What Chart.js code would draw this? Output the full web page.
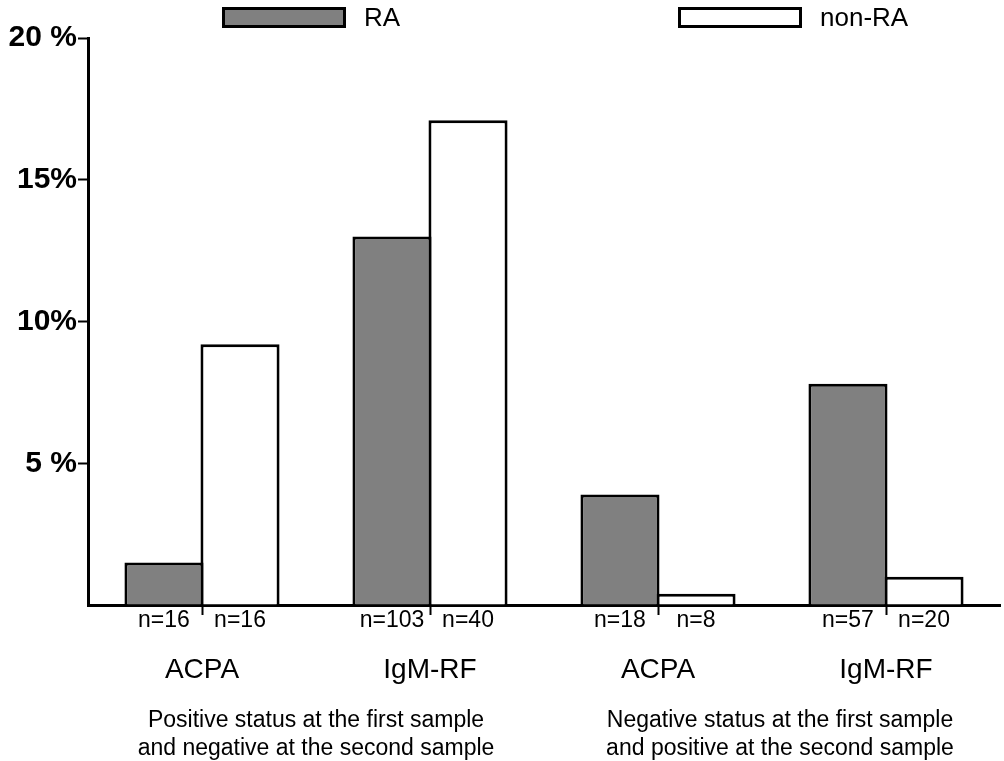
<!DOCTYPE html>
<html>
<head>
<meta charset="utf-8">
<script src="https://cdn.jsdelivr.net/npm/chart.js@4.4.1/dist/chart.umd.min.js"></script>
<style>
  html, body { margin: 0; padding: 0; background: #fff; }
  #wrap { width: 1004px; height: 761px; }
</style>
</head>
<body>
<div id="wrap"><canvas id="chart"></canvas></div>
<script>
// categories on the x axis
const categories = ['ACPA', 'IgM-RF', 'ACPA', 'IgM-RF'];
// percentage values
const raValues = [1.5, 13.0, 3.9, 7.8];
const nonRaValues = [9.2, 17.1, 0.4, 1.0];
// sample sizes printed under each bar
const raN = ['n=16', 'n=103', 'n=18', 'n=57'];
const nonRaN = ['n=16', 'n=40', 'n=8', 'n=20'];
// y tick labels (keyed by value)
const yTickValues = [5, 10, 15, 20];
const yTickLabels = ['5 %', '10%', '15%', '20 %'];
// group captions: [first category index, last category index, lines]
const groupCaptions = [
  [0, 1, ['Positive status at the first sample', 'and negative at the second sample']],
  [2, 3, ['Negative status at the first sample', 'and positive at the second sample']]
];

const FONT = '"Liberation Sans", Arial, sans-serif';
const INK = '#000';

// legend drawn by hand so the boxes sit where the original has them
const legendBoxes = {
  id: 'legendBoxes',
  afterDraw(chart) {
    const ctx = chart.ctx;
    const spots = [222, 678];
    ctx.save();
    chart.data.datasets.forEach((ds, i) => {
      const x = spots[i];
      ctx.fillStyle = ds.backgroundColor;
      ctx.fillRect(x, 7, 124, 21);
      ctx.lineWidth = 3;
      ctx.strokeStyle = ds.borderColor;
      ctx.strokeRect(x + 1.5, 8.5, 121, 18);
      ctx.fillStyle = INK;
      ctx.font = '26px ' + FONT;
      ctx.textBaseline = 'middle';
      ctx.textAlign = 'left';
      ctx.fillText(ds.label, x + 142, 19);
    });
    ctx.restore();
  }
};

// n= labels under each bar and captions under each group
const underLabels = {
  id: 'underLabels',
  afterDraw(chart) {
    const ctx = chart.ctx;
    const bottom = chart.chartArea.bottom;
    const xScale = chart.scales.x;
    ctx.save();
    ctx.fillStyle = INK;
    ctx.textAlign = 'center';
    ctx.textBaseline = 'middle';
    ctx.font = '23px ' + FONT;
    [raN, nonRaN].forEach((labels, d) => {
      const meta = chart.getDatasetMeta(d);
      meta.data.forEach((bar, i) => {
        ctx.fillText(labels[i], bar.x, bottom + 16);
      });
    });

    ctx.font = '23px ' + FONT;
    const nudge = [0, 8];
    groupCaptions.forEach(([a, b, lines], g) => {
      const cx = (xScale.getPixelForValue(a) + xScale.getPixelForValue(b)) / 2 + nudge[g];
      lines.forEach((line, k) => {
        ctx.fillText(line, cx, bottom + 116 + k * 28);
      });
    });
    ctx.restore();
  }
};

new Chart(document.getElementById('chart'), {
  type: 'bar',
  data: {
    labels: categories,
    datasets: [
      {
        label: 'RA',
        data: raValues,
        backgroundColor: '#808080',
        borderColor: INK,
        borderWidth: 3,
        barPercentage: 1.04,
        categoryPercentage: 0.667
      },
      {
        label: 'non-RA',
        data: nonRaValues,
        backgroundColor: '#ffffff',
        borderColor: INK,
        borderWidth: 3,
        barPercentage: 1.04,
        categoryPercentage: 0.667
      }
    ]
  },
  options: {
    responsive: true,
    maintainAspectRatio: false,
    animation: false,
    layout: { padding: { left: 0, right: 4, top: 38, bottom: 0 } },
    plugins: {
      legend: { display: false },
      tooltip: { enabled: false }
    },
    scales: {
      x: {
        offset: true,
        border: { display: true, color: INK, width: 3 },
        grid: {
          offset: false,
          drawOnChartArea: false,
          drawTicks: true,
          tickLength: 10,
          tickWidth: 2,
          tickColor: INK
        },
        ticks: {
          color: INK,
          font: { family: FONT, size: 28 },
          padding: 38,
          maxRotation: 0,
          autoSkip: false
        },
        afterFit(scale) { scale.height = 156; }
      },
      y: {
        min: 0,
        max: 20,
        border: { display: true, color: INK, width: 3 },
        grid: {
          drawOnChartArea: false,
          drawTicks: true,
          tickLength: 10,
          tickWidth: 2,
          tickColor: (c) => (c.tick && c.tick.value === 0 ? 'rgba(0,0,0,0)' : INK)
        },
        ticks: {
          stepSize: 5,
          color: INK,
          padding: 1,
          font: { family: FONT, size: 30, weight: 'bold' },
          callback: (v) => {
            const i = yTickValues.indexOf(v);
            return i >= 0 ? yTickLabels[i] : '';
          }
        },
        afterFit(scale) { scale.width = 88; }
      }
    }
  },
  plugins: [legendBoxes, underLabels]
});
</script>
</body>
</html>
